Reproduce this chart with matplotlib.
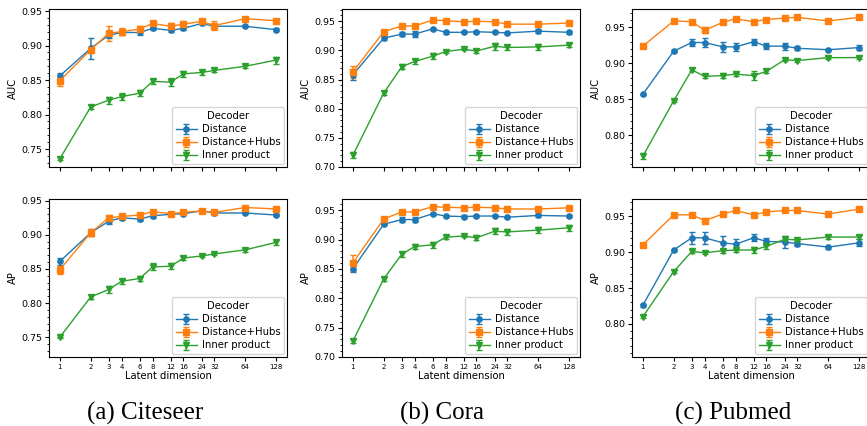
import numpy as np
import matplotlib
matplotlib.use('Agg')
import matplotlib.pyplot as plt
from matplotlib.ticker import AutoMinorLocator, NullLocator, FixedLocator, FixedFormatter

# latent dimensions on the x axis
dims = [1, 2, 3, 4, 6, 8, 12, 16, 24, 32, 64, 128]
decoders = ['Distance', 'Distance+Hubs', 'Inner product']

# Citeseer
cs_auc_dist = [0.856, 0.896, 0.915, 0.919, 0.919, 0.925, 0.922, 0.925, 0.932, 0.928, 0.928, 0.923]
cs_auc_dist_err = [0.004, 0.015, 0.004, 0.004, 0.003, 0.003, 0.003, 0.003, 0.002, 0.003, 0.001, 0.002]
cs_auc_hubs = [0.849, 0.894, 0.918, 0.920, 0.924, 0.932, 0.928, 0.931, 0.935, 0.929, 0.939, 0.936]
cs_auc_hubs_err = [0.007, 0.005, 0.011, 0.005, 0.004, 0.003, 0.004, 0.005, 0.002, 0.006, 0.001, 0.002]
cs_auc_inner = [0.736, 0.811, 0.821, 0.826, 0.831, 0.848, 0.847, 0.859, 0.861, 0.864, 0.870, 0.879]
cs_auc_inner_err = [0.002, 0.003, 0.005, 0.005, 0.004, 0.004, 0.006, 0.004, 0.003, 0.003, 0.003, 0.005]

cs_ap_dist = [0.861, 0.903, 0.920, 0.925, 0.923, 0.928, 0.930, 0.931, 0.935, 0.932, 0.932, 0.929]
cs_ap_dist_err = [0.005, 0.005, 0.004, 0.003, 0.003, 0.003, 0.002, 0.002, 0.001, 0.002, 0.001, 0.002]
cs_ap_hubs = [0.849, 0.903, 0.925, 0.927, 0.929, 0.934, 0.931, 0.933, 0.935, 0.933, 0.940, 0.938]
cs_ap_hubs_err = [0.006, 0.005, 0.004, 0.003, 0.003, 0.003, 0.002, 0.004, 0.002, 0.004, 0.001, 0.001]
cs_ap_inner = [0.750, 0.809, 0.820, 0.832, 0.836, 0.853, 0.854, 0.866, 0.869, 0.872, 0.878, 0.889]
cs_ap_inner_err = [0.001, 0.003, 0.005, 0.004, 0.003, 0.005, 0.004, 0.003, 0.002, 0.002, 0.003, 0.004]

# Cora
co_auc_dist = [0.858, 0.921, 0.928, 0.928, 0.937, 0.931, 0.931, 0.932, 0.931, 0.930, 0.933, 0.931]
co_auc_dist_err = [0.008, 0.003, 0.004, 0.005, 0.002, 0.003, 0.002, 0.002, 0.002, 0.002, 0.003, 0.003]
co_auc_hubs = [0.863, 0.932, 0.942, 0.942, 0.952, 0.951, 0.949, 0.950, 0.949, 0.945, 0.945, 0.947]
co_auc_hubs_err = [0.011, 0.002, 0.002, 0.003, 0.002, 0.002, 0.002, 0.002, 0.002, 0.002, 0.002, 0.002]
co_auc_inner = [0.720, 0.827, 0.872, 0.881, 0.890, 0.898, 0.902, 0.899, 0.907, 0.905, 0.906, 0.909]
co_auc_inner_err = [0.005, 0.004, 0.004, 0.005, 0.005, 0.003, 0.002, 0.004, 0.006, 0.004, 0.005, 0.003]

co_ap_dist = [0.850, 0.926, 0.934, 0.934, 0.944, 0.940, 0.939, 0.940, 0.940, 0.938, 0.941, 0.940]
co_ap_dist_err = [0.006, 0.002, 0.004, 0.005, 0.002, 0.002, 0.002, 0.002, 0.002, 0.002, 0.002, 0.002]
co_ap_hubs = [0.860, 0.935, 0.947, 0.947, 0.956, 0.955, 0.954, 0.955, 0.954, 0.952, 0.952, 0.954]
co_ap_hubs_err = [0.013, 0.002, 0.003, 0.002, 0.002, 0.002, 0.002, 0.002, 0.002, 0.002, 0.002, 0.002]
co_ap_inner = [0.727, 0.833, 0.875, 0.888, 0.891, 0.904, 0.906, 0.903, 0.914, 0.913, 0.916, 0.920]
co_ap_inner_err = [0.004, 0.003, 0.004, 0.004, 0.005, 0.003, 0.002, 0.004, 0.005, 0.005, 0.005, 0.005]

# Pubmed
pm_auc_dist = [0.857, 0.917, 0.929, 0.929, 0.923, 0.923, 0.930, 0.924, 0.924, 0.921, 0.919, 0.922]
pm_auc_dist_err = [0.001, 0.001, 0.005, 0.006, 0.007, 0.006, 0.004, 0.004, 0.005, 0.003, 0.001, 0.003]
pm_auc_hubs = [0.924, 0.959, 0.958, 0.946, 0.957, 0.962, 0.958, 0.961, 0.963, 0.964, 0.959, 0.964]
pm_auc_hubs_err = [0.001, 0.001, 0.001, 0.004, 0.001, 0.001, 0.001, 0.001, 0.001, 0.001, 0.001, 0.001]
pm_auc_inner = [0.771, 0.848, 0.891, 0.882, 0.883, 0.885, 0.883, 0.889, 0.905, 0.904, 0.908, 0.908]
pm_auc_inner_err = [0.004, 0.001, 0.002, 0.002, 0.003, 0.002, 0.006, 0.003, 0.002, 0.002, 0.002, 0.002]

pm_ap_dist = [0.826, 0.903, 0.920, 0.920, 0.913, 0.911, 0.920, 0.915, 0.914, 0.912, 0.907, 0.913]
pm_ap_dist_err = [0.002, 0.001, 0.008, 0.008, 0.009, 0.008, 0.005, 0.005, 0.008, 0.004, 0.002, 0.005]
pm_ap_hubs = [0.910, 0.952, 0.952, 0.944, 0.953, 0.958, 0.952, 0.956, 0.958, 0.958, 0.953, 0.960]
pm_ap_hubs_err = [0.001, 0.001, 0.001, 0.004, 0.001, 0.001, 0.001, 0.003, 0.001, 0.001, 0.001, 0.001]
pm_ap_inner = [0.810, 0.873, 0.901, 0.899, 0.902, 0.903, 0.903, 0.908, 0.918, 0.917, 0.921, 0.921]
pm_ap_inner_err = [0.002, 0.002, 0.002, 0.002, 0.003, 0.003, 0.004, 0.004, 0.003, 0.002, 0.002, 0.003]

captions = ['(a) Citeseer', '(b) Cora', '(c) Pubmed']

panels = [
    # (column, row, ylabel, series, ylim)
    (0, 0, 'AUC', [(cs_auc_dist, cs_auc_dist_err), (cs_auc_hubs, cs_auc_hubs_err), (cs_auc_inner, cs_auc_inner_err)], (0.724, 0.953)),
    (0, 1, 'AP', [(cs_ap_dist, cs_ap_dist_err), (cs_ap_hubs, cs_ap_hubs_err), (cs_ap_inner, cs_ap_inner_err)], (0.721, 0.9525)),
    (1, 0, 'AUC', [(co_auc_dist, co_auc_dist_err), (co_auc_hubs, co_auc_hubs_err), (co_auc_inner, co_auc_inner_err)], (0.700, 0.971)),
    (1, 1, 'AP', [(co_ap_dist, co_ap_dist_err), (co_ap_hubs, co_ap_hubs_err), (co_ap_inner, co_ap_inner_err)], (0.700, 0.969)),
    (2, 0, 'AUC', [(pm_auc_dist, pm_auc_dist_err), (pm_auc_hubs, pm_auc_hubs_err), (pm_auc_inner, pm_auc_inner_err)], (0.756, 0.9756)),
    (2, 1, 'AP', [(pm_ap_dist, pm_ap_dist_err), (pm_ap_hubs, pm_ap_hubs_err), (pm_ap_inner, pm_ap_inner_err)], (0.754, 0.974)),
]

colors = ['#1f77b4', '#ff7f0e', '#2ca02c']
markers = ['o', 's', 'v']

W, H = 867, 426
fig = plt.figure(figsize=(W / 100, H / 100), dpi=100)

col_left = [49, 342, 632]
row_top = [9, 199]
ax_w, ax_h = 238, 158

for col, row, ylab, series, ylim in panels:
    left = col_left[col]
    top = row_top[row]
    ax = fig.add_axes([left / W, 1 - (top + ax_h) / H, ax_w / W, ax_h / H])
    for (vals, errs), lab, c, m in zip(series, decoders, colors, markers):
        ax.errorbar(dims, vals, yerr=errs, color=c, marker=m, markersize=3.8,
                    lw=1, elinewidth=1.1, capsize=2, label=lab)
    ax.set_xscale('log', base=2)
    ax.xaxis.set_major_locator(FixedLocator(dims))
    ax.xaxis.set_major_formatter(FixedFormatter([str(d) for d in dims]))
    ax.xaxis.set_minor_locator(NullLocator())
    ax.yaxis.set_minor_locator(AutoMinorLocator(5))
    ax.set_ylim(*ylim)
    ax.tick_params(axis='x', labelsize=5, length=3, pad=2)
    ax.tick_params(axis='y', labelsize=6.8, length=3, pad=2)
    ax.tick_params(axis='y', which='minor', length=1.5)
    ax.set_ylabel(ylab, fontsize=7.2, labelpad=2)
    if row == 0:
        ax.set_xticklabels([])
    else:
        ax.set_xlabel('Latent dimension', fontsize=7.2, labelpad=1)
    ax.legend(title='Decoder', loc='lower right', fontsize=7.3, title_fontsize=7.3,
              handlelength=2.0, borderpad=0.4, labelspacing=0.3, handletextpad=0.5,
              borderaxespad=0.25)

caption_x = [145, 442, 733]
for cx, cap in zip(caption_x, captions):
    fig.text(cx / W, 1 - 413 / H, cap, ha='center', va='center',
             family='Liberation Serif', fontsize=18)

fig.savefig('out.png', dpi=100)
